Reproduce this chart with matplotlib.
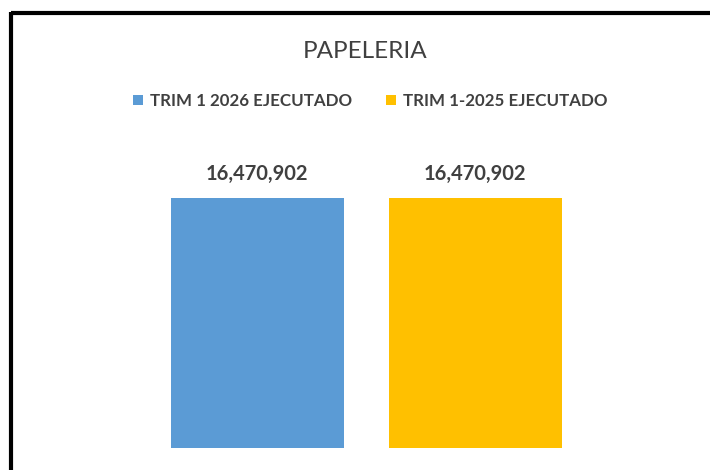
import matplotlib
matplotlib.use("Agg")
import matplotlib.pyplot as plt
from matplotlib.lines import Line2D

# data
title = "PAPELERIA"
series_names = ["TRIM 1 2026 EJECUTADO", "TRIM 1-2025 EJECUTADO"]
values = [16470902, 16470902]
colors = ["#5B9BD5", "#FFC000"]

plt.rcParams["font.family"] = ["Lato", "DejaVu Sans"]
text_color = "#404040"

W, H = 710, 470
fig = plt.figure(figsize=(W / 100, H / 100), dpi=100)

# axes: bar baseline at y=448 px, top of axes at y=148 px
bottom_px, top_px = 448, 148
ax = fig.add_axes([0, (H - bottom_px) / H, 1, (bottom_px - top_px) / H])
ax.axis("off")

step = 218.0  # pixels between bar centres
first_centre = 257.0
ax.set_xlim(-first_centre / step, (W - first_centre) / step)
vmax = max(values)
ax.set_ylim(0, vmax * (bottom_px - top_px) / (bottom_px - 198))

bars = []
for i, (name, v, c) in enumerate(zip(series_names, values, colors)):
    b = ax.bar(i, v, width=173 / step, color=c, label=name)
    bars.append(b)
    ax.annotate(f"{v:,}", (i, v), xytext=(0, 10), textcoords="offset points",
                ha="center", va="bottom", fontsize=14.5, fontweight="bold",
                color=text_color, annotation_clip=False)

fig.text(365 / W, 1 - 51 / H, title, ha="center", va="center",
         fontsize=17.5, color=text_color)

fig.legend(handles=[b[0] for b in bars], labels=series_names, loc="center",
           bbox_to_anchor=(370 / W, 1 - 101 / H), ncol=2, frameon=False,
           handlelength=0.6, handleheight=0.6, handletextpad=0.4,
           columnspacing=2.0, prop={"size": 12.2, "weight": "bold"},
           labelcolor=text_color)

# black frame on top and left, as in the screenshot
fig.add_artist(Line2D([11 / W, 1], [1 - 13 / H, 1 - 13 / H], color="black",
                      lw=3, transform=fig.transFigure, solid_capstyle="butt"))
fig.add_artist(Line2D([11 / W, 11 / W], [1 - 11.5 / H, 0], color="black",
                      lw=3, transform=fig.transFigure, solid_capstyle="butt"))

fig.savefig("out.png", dpi=100)
